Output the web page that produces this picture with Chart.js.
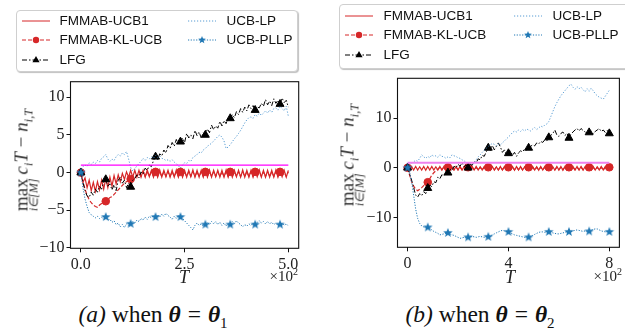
<!DOCTYPE html>
<html>
<head>
<meta charset="utf-8">
<script src="https://cdn.jsdelivr.net/npm/chart.js@4.4.0/dist/chart.umd.min.js"></script>
<style>
  html,body{margin:0;padding:0;background:#fff;}
  body{width:625px;height:328px;position:relative;overflow:hidden;}
  canvas{position:absolute;top:0;}
  .legend{position:absolute;border:1px solid #cfcfcf;border-radius:4px;background:#fff;box-shadow:1px 1px 1px rgba(0,0,0,0.25);}
  .lg-item{position:absolute;height:14px;transform:translateY(-50%);white-space:nowrap;font-family:"Liberation Sans",Arial,sans-serif;font-size:13.5px;line-height:14px;color:#111;}
  .lg-item svg{position:absolute;top:1px;}
  .lg-item span{position:absolute;top:0;}
  .ylab{position:absolute;transform:translate(-50%,-50%) rotate(-90deg);white-space:nowrap;font-family:"Liberation Serif","Times New Roman",serif;font-size:19px;color:#333;line-height:19px;}
  .ylab .lim{position:relative;display:inline-block;}
  .ylab .under{position:absolute;left:50%;top:100%;transform:translate(-50%,-3px);font-size:12px;line-height:12px;font-style:italic;}
  .ylab sub{font-size:12.5px;line-height:0;}
  .xlab{position:absolute;transform:translateX(-50%);font-family:"Liberation Serif","Times New Roman",serif;font-style:italic;font-size:18px;color:#222;line-height:18px;}
  .offs{position:absolute;font-family:"Liberation Serif","Times New Roman",serif;font-size:15px;color:#222;line-height:15px;text-align:right;}
  .offs sup{font-size:10px;line-height:0;}
  .cap{position:absolute;transform:translateX(-50%);white-space:nowrap;font-family:"Liberation Serif","Times New Roman",serif;font-size:23.5px;color:#111;line-height:23px;}
  .cap b{font-style:italic;}
  .cap .eq{margin:0 7px;}
  .cap sub{font-size:15px;line-height:0;}
</style>
</head>
<body>
<canvas id="cA" width="310" height="300" style="left:0px;width:310px;height:300px;"></canvas>
<canvas id="cB" width="305" height="300" style="left:320px;width:305px;height:300px;"></canvas>

<div class="legend" id="legA" style="left:16px;top:10px;width:280px;height:60px;"></div>
<div class="legend" id="legB" style="left:339px;top:4px;width:290px;height:63px;"></div>

<div class="ylab" style="left:21px;top:160px;"><span class="lim">max<span class="under">i∈[M]</span></span>&#8201;<i>c</i><sub><i>i</i></sub><i>T</i>&#8197;−&#8197;<i>n</i><sub><i>i,T</i></sub></div>
<div class="ylab" style="left:347px;top:155px;"><span class="lim">max<span class="under">i∈[M]</span></span>&#8201;<i>c</i><sub><i>i</i></sub><i>T</i>&#8197;−&#8197;<i>n</i><sub><i>i,T</i></sub></div>

<div class="xlab" style="left:184px;top:268px;">T</div>
<div class="xlab" style="left:510px;top:268px;">T</div>
<div class="offs" style="right:327px;top:269px;">×10<sup>2</sup></div>
<div class="offs" style="right:3px;top:269px;">×10<sup>2</sup></div>

<div class="cap" style="left:153px;top:303px;"><i>(a)</i> when <b>θ</b><span class="eq">=</span><b>θ</b><sub>1</sub></div>
<div class="cap" style="left:480px;top:303px;"><i>(b)</i> when <b>θ</b><span class="eq">=</span><b>θ</b><sub>2</sub></div>

<script>
// ---------------- DATA ----------------
const seriesNames = ["FMMAB-UCB1", "FMMAB-KL-UCB", "LFG", "UCB-LP", "UCB-PLLP"];
const stepA = 5;   // T sampling of panel (a): 0..500
const stepB = 8;   // T sampling of panel (b): 0..800
const refLevel = 1;
const xTicksA = [0, 250, 500];
const yTicksA = [-10, -5, 0, 5, 10];
const xTicksB = [0, 400, 800];
const yTicksB = [-10, 0, 10];

// panel (a)
const ucb1A = [0,-1.3,-0.7,-2.0,-1.0,-2.4,-1.3,-2.5,-1.2,-2.3,
  -1.0,-2.2,-0.8,-2.0,-0.6,-1.8,-0.4,-1.5,-0.3,-1.2,
  -0.1,-0.9,0.1,-0.6,0.3,-0.6,0.3,-0.6,0.3,-0.6,
  0.3,-0.6,0.35,-0.55,0.3,-0.6,0.3,-0.6,0.35,-0.6,
  0.3,-0.55,0.3,-0.6,0.3,-0.6,0.35,-0.6,0.3,-0.6,
  0.3,-0.6,0.3,-0.55,0.35,-0.6,0.3,-0.6,0.3,-0.6,
  0.3,-0.6,0.35,-0.6,0.3,-0.55,0.3,-0.6,0.3,-0.6,
  0.35,-0.6,0.3,-0.6,0.3,-0.55,0.3,-0.6,0.35,-0.6,
  0.3,-0.6,0.3,-0.6,0.3,-0.55,0.35,-0.6,0.3,-0.6,
  0.3,-0.6,0.3,-0.6,0.35,-0.6,0.3,-0.55,0.3,-0.6,
  0.3];
const klA = [0,-1.2,-2.2,-3.0,-3.6,-4.0,-4.3,-4.5,-4.6,-4.3,
  -4.1,-3.9,-3.8,-3.6,-3.3,-3.2,-2.9,-2.6,-2.3,-2.0,
  -1.7,-1.4,-1.2,-1.0,-0.85,-0.6,-0.4,-0.5,-0.1,-0.5,
  0.1,-0.5,0.1,-0.5,0.1,-0.5,0.1,-0.5,0.1,-0.5,
  0.1,-0.5,0.1,-0.5,0.1,-0.5,0.1,-0.5,0.1,-0.5,
  0.1,-0.5,0.1,-0.5,0.1,-0.5,0.1,-0.5,0.1,-0.5,
  0.1,-0.5,0.1,-0.5,0.1,-0.5,0.1,-0.5,0.1,-0.5,
  0.1,-0.5,0.1,-0.5,0.1,-0.5,0.1,-0.5,0.1,-0.5,
  0.1,-0.5,0.1,-0.5,0.1,-0.5,0.1,-0.5,0.1,-0.5,
  0.1,-0.5,0.1,-0.5,0.1,-0.5,0.1,-0.5,0.1,-0.5,
  0.1];
const lfgA = [0,-1.3,-2.4,-3.1,-3.3,-2.6,-3.0,-2.2,-2.6,-1.8,
  -2.2,-1.2,-0.9,-1.8,-1.5,-2.3,-1.6,-2.4,-1.0,-0.6,
  -1.4,-1.0,-2.0,-1.4,-1.9,-1.0,-0.8,-0.3,-0.7,0.1,
  -0.2,0.6,0.3,1.0,0.8,1.6,2.1,1.7,2.5,2.2,
  3.0,2.6,3.6,3.2,4.0,3.5,4.4,3.8,4.1,4.6,
  4.0,5.2,4.6,5.0,4.5,5.6,4.9,5.4,4.6,5.3,
  5.0,5.8,5.3,6.3,5.7,6.2,5.9,6.8,6.2,6.9,
  6.5,7.3,7.2,7.7,7.3,8.1,7.7,8.5,8.0,8.7,
  8.2,9.0,8.5,8.9,8.3,8.7,8.6,9.2,8.8,9.7,
  9.0,9.5,8.9,9.8,9.2,9.6,9.1,9.9,9.3,9.6,
  8.7];
const lpA = [0,0.8,1.0,0.8,1.3,1.1,1.4,1.2,1.6,1.4,
  1.9,2.1,2.4,1.8,1.5,1.8,1.6,2.1,2.4,2.2,
  2.6,2.4,2.8,1.8,0.7,0.2,0.5,0.9,1.2,1.5,
  1.9,1.6,2.0,1.8,2.1,1.9,2.3,2.0,2.2,1.9,
  1.8,1.6,1.7,1.5,1.7,1.4,1.2,0.9,0.6,1.0,
  1.3,1.2,1.6,1.5,2.0,2.2,2.4,2.7,2.6,3.0,
  3.2,3.5,3.7,3.9,4.2,4.5,4.8,5.0,4.7,4.2,
  3.2,3.4,3.7,4.1,4.5,4.8,5.2,5.6,6.1,6.6,
  7.0,7.3,7.4,7.2,7.7,7.5,7.9,7.6,7.9,8.2,
  7.9,8.3,8.0,8.5,8.6,8.3,8.8,8.5,8.2,8.8,
  7.5];
const pllpA = [0,-2.0,-3.5,-4.5,-5.3,-5.6,-5.8,-6.0,-5.8,-6.1,
  -5.9,-6.2,-5.9,-6.3,-6.2,-6.6,-6.4,-6.9,-6.7,-7.2,
  -6.9,-7.3,-6.8,-7.0,-6.8,-6.5,-6.7,-6.3,-6.5,-6.1,
  -6.3,-5.9,-6.2,-5.8,-6.0,-5.7,-5.9,-5.6,-5.9,-5.5,
  -5.8,-5.4,-5.7,-5.9,-6.2,-5.8,-6.1,-5.7,-5.9,-6.1,
  -6.4,-6.7,-7.0,-7.3,-7.6,-7.0,-6.7,-7.0,-6.8,-7.1,
  -6.9,-6.6,-6.9,-6.5,-6.8,-6.5,-6.9,-6.6,-7.0,-6.7,
  -7.1,-6.8,-6.9,-6.5,-6.8,-6.4,-6.7,-6.9,-7.2,-6.9,
  -7.1,-6.8,-7.0,-6.7,-6.9,-6.6,-6.4,-6.7,-6.5,-6.8,
  -6.5,-6.8,-6.6,-6.9,-6.7,-7.0,-6.9,-6.7,-7.0,-6.8,
  -7.1];

// panel (b)
const ucb1B = [0,-0.6,0.25,-0.45,0.25,-0.45,0.2,-0.45,0.25,-0.5,
  0.25,-0.45,0.25,-0.45,0.2,-0.45,0.25,-0.45,0.25,-0.5,
  0.25,-0.45,0.2,-0.45,0.25,-0.45,0.25,-0.45,0.2,-0.5,
  0.25,-0.45,0.25,-0.45,0.25,-0.45,0.2,-0.45,0.25,-0.45,
  0.25,-0.5,0.25,-0.45,0.2,-0.45,0.25,-0.45,0.25,-0.45,
  0.2,-0.45,0.25,-0.5,0.25,-0.45,0.25,-0.45,0.2,-0.45,
  0.25,-0.45,0.25,-0.45,0.2,-0.5,0.25,-0.45,0.25,-0.45,
  0.25,-0.45,0.2,-0.45,0.25,-0.45,0.25,-0.5,0.25,-0.45,
  0.2,-0.45,0.25,-0.45,0.25,-0.45,0.25,-0.45,0.2,-0.5,
  0.25,-0.45,0.25,-0.45,0.2,-0.45,0.25,-0.45,0.25,-0.45,
  0.25];
const klB = [0,-1.5,-2.8,-3.7,-4.3,-4.6,-4.3,-4.0,-3.6,-3.2,
  -2.9,-2.2,-1.5,-1.0,-0.6,-0.3,0.1,-0.4,0.1,-0.4,
  0.1,-0.4,0.1,-0.4,0.1,-0.4,0.1,-0.4,0.1,-0.4,
  0.1,-0.4,0.1,-0.4,0.1,-0.4,0.1,-0.4,0.1,-0.4,
  0.1,-0.4,0.1,-0.4,0.1,-0.4,0.1,-0.4,0.1,-0.4,
  0.1,-0.4,0.1,-0.4,0.1,-0.4,0.1,-0.4,0.1,-0.4,
  0.1,-0.4,0.1,-0.4,0.1,-0.4,0.1,-0.4,0.1,-0.4,
  0.1,-0.4,0.1,-0.4,0.1,-0.4,0.1,-0.4,0.1,-0.4,
  0.1,-0.4,0.1,-0.4,0.1,-0.4,0.1,-0.4,0.1,-0.4,
  0.1,-0.4,0.1,-0.4,0.1,-0.4,0.1,-0.4,0.1,-0.4,
  0.1];
const lfgB = [0,-1.2,-2.5,-4.0,-5.5,-5.9,-5.2,-5.6,-4.8,-5.2,
  -4.1,-3.5,-3.8,-2.8,-3.0,-1.9,-2.2,-1.4,-1.6,-0.8,
  -1.0,-0.3,-0.6,0.3,0.0,0.7,0.3,1.0,0.2,0.6,
  0.0,0.7,0.5,1.2,1.0,1.8,1.6,2.5,2.3,3.2,
  4.0,3.5,4.5,3.6,4.3,5.0,4.2,3.1,3.6,2.6,
  2.9,3.4,2.5,3.1,2.3,3.0,3.4,3.2,3.8,3.6,
  4.0,4.3,4.6,4.4,5.0,4.8,5.3,5.1,5.6,5.4,
  6.1,6.5,6.9,7.6,6.6,6.3,6.9,7.2,6.5,6.9,
  6.0,6.8,7.2,7.6,7.9,7.4,7.9,7.5,7.2,6.9,
  7.1,7.4,6.8,7.3,7.6,7.9,7.3,7.6,7.1,7.5,
  6.9];
const lpB = [0,0.6,0.9,1.2,1.5,1.3,1.9,2.6,2.2,1.9,
  2.3,2.0,2.6,2.3,2.4,2.1,2.6,2.3,2.2,1.9,
  2.2,2.0,2.6,2.4,2.3,2.0,1.9,1.6,1.4,1.1,
  0.9,0.8,0.7,1.0,1.6,2.2,2.6,3.1,3.5,3.9,
  4.3,4.6,4.9,4.7,4.4,4.8,4.6,5.0,5.4,5.8,
  6.2,6.6,7.1,7.4,7.2,7.6,7.3,7.7,7.4,7.8,
  7.6,7.4,7.8,8.1,7.7,8.0,8.4,8.2,8.6,8.8,
  9.3,10.3,11.3,12.3,13.1,13.8,14.5,15.0,15.5,16.0,
  16.5,16.8,16.2,15.8,16.3,15.9,16.2,15.7,15.3,15.9,
  15.4,16.0,15.5,14.9,14.5,14.2,14.0,13.8,14.4,15.0,
  15.6];
const pllpB = [0,-0.9,-2.8,-5.5,-8.3,-10.2,-11.2,-11.7,-11.9,-12.0,
  -12.0,-12.2,-12.5,-12.8,-13.0,-13.2,-13.5,-13.4,-13.3,-13.2,
  -13.1,-13.3,-13.5,-13.6,-13.8,-14.0,-14.2,-14.1,-14.0,-14.1,
  -14.0,-13.9,-13.8,-13.9,-14.0,-13.9,-13.8,-13.9,-14.0,-13.9,
  -13.9,-13.7,-13.5,-13.3,-13.1,-12.9,-12.7,-12.6,-12.7,-12.8,
  -12.9,-13.1,-13.3,-13.5,-13.6,-13.7,-13.8,-13.9,-14.0,-14.0,
  -14.0,-13.8,-13.6,-13.4,-13.2,-13.0,-12.9,-12.9,-13.0,-12.9,
  -12.9,-13.0,-13.1,-13.2,-13.3,-13.3,-13.2,-13.1,-13.0,-12.9,
  -12.9,-12.8,-12.7,-12.6,-12.5,-12.6,-12.7,-12.8,-12.7,-12.8,
  -12.8,-12.6,-12.4,-12.3,-12.3,-12.5,-12.7,-12.8,-12.9,-12.8,
  -12.9];

// ---------------- STYLES ----------------
const RED = '#d62728', BLACK = '#000000', LBLUE = 'rgba(60,140,205,0.85)', BLUE = '#1f77b4';
const MAG_A = '#ff00ff', MAG_B = '#ee82ee';
const SERIF = '"Liberation Serif", "Times New Roman", Times, serif';
Chart.defaults.font.family = SERIF;

function makeStar(color, R, r){
  const s = Math.ceil(R*2)+2, c = document.createElement('canvas');
  c.width = s; c.height = s;
  const g = c.getContext('2d');
  g.beginPath();
  for(let k=0;k<10;k++){
    const rad = (k%2===0)?R:r, a = -Math.PI/2 + k*Math.PI/5;
    const px = s/2 + rad*Math.cos(a), py = s/2 + rad*Math.sin(a);
    k===0 ? g.moveTo(px,py) : g.lineTo(px,py);
  }
  g.closePath(); g.fillStyle = color; g.fill();
  return c;
}
const starImg = makeStar(BLUE, 5, 2.1);

function pts(vals, step){ return vals.map((v,i)=>({x:i*step, y:v})); }
function minusFmt(v){ return v<0 ? '\u2212'+Math.abs(v) : String(v); }

const framePlugin = {
  id:'frame',
  afterDatasetsDraw(chart){
    const a = chart.chartArea, c = chart.ctx;
    c.save(); c.strokeStyle = '#111'; c.lineWidth = 1.1;
    c.strokeRect(a.left, a.top, a.right-a.left, a.bottom-a.top);
    c.restore();
  }
};

function buildChart(id, step, every, series, tmax, xr, yr, xt, yt, xfmt, mag, magW, pad, yW){
  const [u1, kl, lfg, lp, pl] = series;
  const mk = r => (ctx => (ctx.dataIndex % every === 0 ? r : 0));
  const tickFont = {family:SERIF, size:16};
  return new Chart(document.getElementById(id), {
    type:'line',
    data:{datasets:[
      {data:pts(u1,step), borderColor:RED, borderWidth:1.2, pointRadius:0, order:6},
      {data:pts(kl,step), borderColor:RED, borderWidth:1.2, borderDash:[4,2], pointStyle:'circle',
        pointRadius:mk(3.8), pointBackgroundColor:RED, pointBorderColor:RED, pointBorderWidth:1, order:5},
      {data:pts(lfg,step), borderColor:BLACK, borderWidth:1, borderDash:[5,2,1.5,2], pointStyle:'triangle',
        pointRadius:mk(4.6), pointBackgroundColor:BLACK, pointBorderColor:BLACK, pointBorderWidth:1, order:4},
      {data:pts(lp,step), borderColor:LBLUE, borderWidth:1, borderDash:[1.2,1.8], pointRadius:0, order:3},
      {data:pts(pl,step), borderColor:BLUE, borderWidth:1, borderDash:[1.2,1.5], pointStyle:starImg,
        pointRadius:mk(4), order:2},
      {data:[{x:0,y:refLevel},{x:tmax,y:refLevel}], borderColor:mag, borderWidth:magW, pointRadius:0, order:1}
    ]},
    options:{
      responsive:false, animation:false, devicePixelRatio:1, events:[],
      layout:{padding:pad},
      plugins:{legend:{display:false}, tooltip:{enabled:false}},
      elements:{line:{tension:0, borderCapStyle:'butt', borderJoinStyle:'miter'}},
      scales:{
        x:{type:'linear', min:xr[0], max:xr[1],
          afterBuildTicks:s=>{ s.ticks = xt.map(v=>({value:v})); },
          afterFit:s=>{ s.height = 30; },
          ticks:{callback:xfmt, font:tickFont, color:'#222', padding:3, maxRotation:0, autoSkip:false},
          grid:{drawOnChartArea:false, drawTicks:true, tickLength:4, tickColor:'#111', tickWidth:1},
          border:{display:false}},
        y:{type:'linear', min:yr[0], max:yr[1],
          afterBuildTicks:s=>{ s.ticks = yt.map(v=>({value:v})); },
          afterFit:s=>{ s.width = yW; },
          ticks:{callback:minusFmt, font:tickFont, color:'#222', padding:2, autoSkip:false},
          grid:{drawOnChartArea:false, drawTicks:true, tickLength:4, tickColor:'#111', tickWidth:1},
          border:{display:false}}
      }
    },
    plugins:[framePlugin]
  });
}

buildChart('cA', stepA, 12, [ucb1A, klA, lfgA, lpA, pllpA], 500, [-25,525], [-10.05,12.07],
  xTicksA, yTicksA, v=>(v/100).toFixed(1), MAG_A, 1.2, {left:0, top:81.7, right:11.3, bottom:21.7}, 70.5);
buildChart('cB', stepB, 10, [ucb1B, klB, lfgB, lpB, pllpB], 800, [-40,840], [-16,18],
  xTicksB, yTicksB, v=>String(v/100), MAG_B, 2, {left:0, top:78.3, right:2.5, bottom:22.7}, 77.5);

// ---------------- LEGENDS ----------------
const legendStyles = [
  {color:RED, dash:'', marker:null},
  {color:RED, dash:'4 2', marker:'circle'},
  {color:BLACK, dash:'5 2 1.5 2', marker:'triangle'},
  {color:LBLUE, dash:'1.2 1.8', marker:null},
  {color:BLUE, dash:'1.2 1.5', marker:'star'}
];
function sampleSVG(st){
  let m = '';
  if(st.marker==='circle') m = `<circle cx="14" cy="6" r="3.2" fill="${st.color}"/>`;
  if(st.marker==='triangle') m = `<polygon points="14,2 17.6,8.3 10.4,8.3" fill="${st.color}"/>`;
  if(st.marker==='star'){
    let p=[]; for(let k=0;k<10;k++){const R=(k%2===0)?4:1.7, a=-Math.PI/2+k*Math.PI/5; p.push((14+R*Math.cos(a)).toFixed(2)+','+(6+R*Math.sin(a)).toFixed(2));}
    m = `<polygon points="${p.join(' ')}" fill="${st.color}"/>`;
  }
  return `<svg width="28" height="12" viewBox="0 0 28 12"><line x1="0" y1="6" x2="28" y2="6" stroke="${st.color}" stroke-width="1" ${st.dash?`stroke-dasharray="${st.dash}"`:''}/>${m}</svg>`;
}
function buildLegend(id, rows, c1s, c1t, c2s, c2t){
  const box = document.getElementById(id);
  const pos = [[0,0],[0,1],[0,2],[1,0],[1,1]];
  seriesNames.forEach((name,i)=>{
    const [col,row] = pos[i];
    const d = document.createElement('div');
    d.className = 'lg-item';
    d.style.left = (col? c2s : c1s)+'px';
    d.style.top = rows[row]+'px';
    const textOff = (col? c2t-c2s : c1t-c1s);
    d.innerHTML = sampleSVG(legendStyles[i]) + `<span style="left:${textOff}px">${name}</span>`;
    box.appendChild(d);
  });
}
buildLegend('legA', [9.5, 29, 48.5], 4.5, 42.5, 170.5, 209.5);
buildLegend('legB', [10.5, 29.8, 49.5], 4.5, 43.5, 173.5, 212.5);
</script>
</body>
</html>
